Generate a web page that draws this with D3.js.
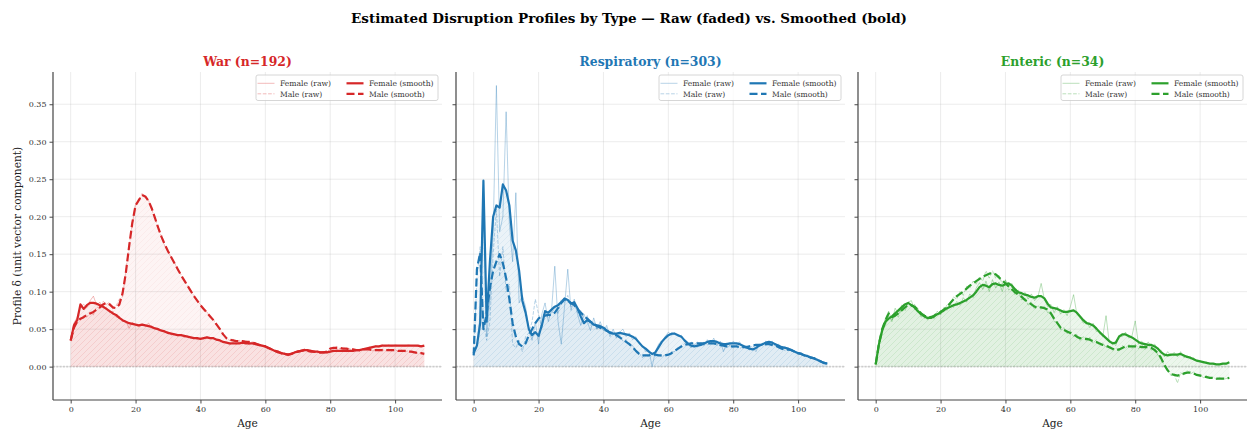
<!DOCTYPE html>
<html>
<head>
<meta charset="utf-8">
<script src="https://cdn.jsdelivr.net/npm/d3@7"></script>
<style>
  body { margin: 0; background: #fff; }
  svg { display: block; }
  text { font-family: "DejaVu Serif", serif; }
</style>
</head>
<body>
<svg id="chart" width="1249" height="431"></svg>
<script>
// Ages 0..109
const ages = d3.range(0, 110);

// ---- War ----
const warFemaleRaw = [0.035,0.058,0.066,0.080,0.083,0.079,0.088,0.094,0.082,0.086,0.078,0.079,0.072,0.074,0.066,0.067,0.060,0.061,0.051,0.059,0.056,0.053,0.057,0.054,0.058,0.051,0.052,0.048,0.049,0.045,0.047,0.042,0.044,0.041,0.043,0.039,0.041,0.038,0.039,0.036,0.038,0.037,0.040,0.037,0.039,0.035,0.036,0.032,0.033,0.029,0.032,0.030,0.033,0.031,0.033,0.029,0.032,0.029,0.030,0.027,0.028,0.024,0.024,0.020,0.021,0.016,0.018,0.014,0.018,0.019,0.021,0.020,0.024,0.021,0.022,0.019,0.021,0.018,0.020,0.018,0.021,0.020,0.023,0.020,0.022,0.020,0.022,0.020,0.023,0.021,0.024,0.023,0.026,0.025,0.028,0.026,0.029,0.027,0.029,0.027,0.029,0.028,0.028,0.027,0.029,0.028,0.028,0.027,0.028,0.027];
const warMaleRaw = [0.035,0.050,0.062,0.063,0.068,0.066,0.073,0.069,0.080,0.077,0.087,0.083,0.086,0.077,0.081,0.090,0.093,0.128,0.162,0.190,0.218,0.220,0.231,0.225,0.222,0.209,0.199,0.183,0.174,0.161,0.155,0.145,0.139,0.129,0.123,0.114,0.109,0.100,0.095,0.087,0.083,0.076,0.073,0.066,0.063,0.055,0.051,0.042,0.039,0.035,0.037,0.033,0.035,0.033,0.035,0.032,0.033,0.030,0.030,0.027,0.028,0.024,0.024,0.020,0.020,0.017,0.018,0.015,0.018,0.018,0.021,0.020,0.023,0.020,0.021,0.019,0.020,0.018,0.020,0.019,0.025,0.024,0.027,0.024,0.026,0.023,0.024,0.021,0.023,0.021,0.024,0.022,0.024,0.021,0.023,0.021,0.023,0.021,0.023,0.021,0.023,0.020,0.022,0.020,0.021,0.019,0.020,0.018,0.018,0.017];
const warFemaleSmooth = [0.035,0.055,0.062,0.083,0.077,0.082,0.085,0.085,0.084,0.082,0.080,0.077,0.074,0.071,0.069,0.065,0.062,0.060,0.058,0.057,0.056,0.055,0.056,0.055,0.054,0.053,0.051,0.050,0.048,0.047,0.045,0.044,0.043,0.042,0.042,0.041,0.040,0.039,0.038,0.038,0.037,0.038,0.039,0.038,0.038,0.036,0.035,0.033,0.032,0.031,0.031,0.031,0.031,0.032,0.031,0.031,0.031,0.030,0.029,0.028,0.027,0.025,0.023,0.021,0.020,0.018,0.017,0.016,0.017,0.019,0.020,0.021,0.022,0.022,0.021,0.020,0.020,0.019,0.019,0.019,0.020,0.021,0.021,0.021,0.021,0.021,0.021,0.021,0.022,0.022,0.023,0.024,0.025,0.026,0.027,0.027,0.028,0.028,0.028,0.028,0.028,0.028,0.028,0.028,0.028,0.028,0.028,0.028,0.027,0.028];
const warMaleSmooth = [0.035,0.052,0.060,0.064,0.066,0.069,0.071,0.073,0.076,0.079,0.083,0.085,0.083,0.079,0.078,0.083,0.098,0.125,0.160,0.192,0.215,0.222,0.229,0.227,0.221,0.211,0.198,0.185,0.173,0.163,0.154,0.146,0.138,0.130,0.122,0.115,0.108,0.101,0.094,0.088,0.082,0.077,0.072,0.067,0.062,0.056,0.050,0.043,0.038,0.036,0.035,0.034,0.034,0.034,0.033,0.033,0.032,0.031,0.029,0.028,0.027,0.025,0.023,0.021,0.019,0.018,0.017,0.016,0.017,0.019,0.020,0.021,0.022,0.021,0.020,0.020,0.019,0.019,0.019,0.020,0.024,0.025,0.025,0.025,0.024,0.024,0.023,0.023,0.022,0.022,0.023,0.023,0.023,0.022,0.022,0.022,0.022,0.022,0.022,0.022,0.022,0.021,0.021,0.021,0.020,0.020,0.019,0.018,0.018,0.017];

// ---- Respiratory ----
const respFemaleRaw = [0.020,0.030,0.070,0.240,0.040,0.090,0.180,0.375,0.180,0.200,0.340,0.190,0.140,0.232,0.085,0.095,0.080,0.050,0.035,0.060,0.030,0.070,0.085,0.060,0.075,0.134,0.060,0.030,0.080,0.130,0.075,0.090,0.070,0.055,0.070,0.060,0.048,0.065,0.050,0.060,0.048,0.055,0.040,0.050,0.038,0.046,0.050,0.040,0.045,0.036,0.040,0.030,0.028,0.020,0.022,0.000,0.020,0.030,0.035,0.040,0.046,0.042,0.045,0.040,0.042,0.033,0.030,0.025,0.030,0.026,0.032,0.028,0.036,0.030,0.038,0.028,0.034,0.020,0.032,0.028,0.034,0.030,0.033,0.025,0.028,0.022,0.025,0.020,0.030,0.028,0.034,0.030,0.034,0.028,0.030,0.024,0.027,0.022,0.023,0.020,0.019,0.016,0.016,0.013,0.013,0.010,0.010,0.007,0.006,0.004];
const respMaleRaw = [0.015,0.120,0.160,0.060,0.035,0.060,0.150,0.210,0.120,0.160,0.100,0.110,0.030,0.025,0.035,0.020,0.040,0.045,0.060,0.090,0.070,0.050,0.075,0.065,0.070,0.080,0.070,0.090,0.085,0.095,0.080,0.085,0.072,0.075,0.062,0.068,0.055,0.060,0.050,0.056,0.048,0.052,0.044,0.046,0.040,0.042,0.034,0.036,0.028,0.028,0.020,0.018,0.012,0.016,0.013,0.017,0.014,0.016,0.013,0.016,0.016,0.020,0.020,0.026,0.025,0.031,0.028,0.033,0.029,0.033,0.029,0.033,0.029,0.033,0.029,0.031,0.027,0.029,0.025,0.028,0.025,0.028,0.024,0.027,0.024,0.028,0.026,0.030,0.027,0.031,0.028,0.031,0.027,0.029,0.025,0.025,0.021,0.024,0.021,0.021,0.017,0.018,0.014,0.015,0.011,0.012,0.008,0.008,0.005,0.004];
const respFemaleSmooth = [0.018,0.028,0.058,0.248,0.060,0.140,0.200,0.215,0.212,0.243,0.235,0.215,0.168,0.155,0.128,0.088,0.072,0.050,0.042,0.046,0.041,0.055,0.074,0.072,0.076,0.080,0.082,0.086,0.091,0.089,0.084,0.086,0.078,0.067,0.058,0.062,0.060,0.056,0.055,0.054,0.052,0.048,0.045,0.044,0.044,0.045,0.044,0.043,0.042,0.040,0.037,0.032,0.027,0.024,0.020,0.017,0.019,0.026,0.033,0.038,0.042,0.044,0.044,0.042,0.040,0.035,0.031,0.028,0.027,0.028,0.029,0.031,0.033,0.034,0.034,0.033,0.031,0.030,0.030,0.031,0.031,0.031,0.030,0.028,0.026,0.024,0.023,0.025,0.028,0.030,0.032,0.033,0.032,0.030,0.028,0.026,0.025,0.024,0.022,0.020,0.018,0.017,0.015,0.014,0.012,0.011,0.009,0.007,0.005,0.004];
const respMaleSmooth = [0.015,0.130,0.152,0.050,0.070,0.105,0.128,0.140,0.150,0.138,0.118,0.090,0.058,0.040,0.030,0.027,0.031,0.042,0.050,0.058,0.064,0.068,0.068,0.069,0.069,0.072,0.078,0.085,0.090,0.088,0.085,0.082,0.077,0.072,0.068,0.064,0.060,0.057,0.054,0.052,0.050,0.048,0.046,0.044,0.042,0.039,0.036,0.033,0.030,0.026,0.021,0.017,0.015,0.015,0.015,0.016,0.016,0.015,0.015,0.015,0.016,0.018,0.021,0.024,0.027,0.029,0.030,0.031,0.031,0.031,0.031,0.031,0.031,0.031,0.031,0.030,0.029,0.028,0.027,0.027,0.027,0.027,0.026,0.026,0.026,0.027,0.028,0.029,0.029,0.029,0.030,0.030,0.029,0.028,0.026,0.024,0.022,0.023,0.022,0.020,0.018,0.017,0.015,0.014,0.012,0.011,0.009,0.007,0.005,0.004];

// ---- Enteric ----
const entFemaleRaw = [0.003,0.035,0.052,0.055,0.068,0.060,0.078,0.070,0.082,0.078,0.086,0.088,0.076,0.078,0.066,0.070,0.062,0.068,0.064,0.074,0.069,0.079,0.075,0.084,0.079,0.087,0.082,0.092,0.086,0.097,0.092,0.105,0.112,0.103,0.114,0.100,0.116,0.105,0.113,0.100,0.115,0.107,0.111,0.098,0.102,0.094,0.099,0.090,0.097,0.088,0.093,0.111,0.090,0.080,0.083,0.072,0.080,0.070,0.076,0.068,0.080,0.096,0.070,0.066,0.058,0.060,0.052,0.058,0.047,0.048,0.040,0.068,0.032,0.033,0.028,0.042,0.040,0.046,0.038,0.041,0.061,0.030,0.034,0.027,0.033,0.026,0.030,0.022,0.022,0.013,0.020,0.014,0.019,0.013,0.020,0.012,0.015,0.010,0.012,0.007,0.008,0.005,0.006,0.004,0.004,0.003,0.003,0.004,0.004,0.006];
const entMaleRaw = [0.003,0.028,0.050,0.064,0.074,0.062,0.070,0.066,0.078,0.074,0.085,0.080,0.083,0.072,0.073,0.064,0.068,0.063,0.070,0.069,0.075,0.073,0.083,0.082,0.093,0.090,0.100,0.095,0.107,0.104,0.114,0.110,0.120,0.114,0.128,0.118,0.128,0.118,0.122,0.110,0.116,0.102,0.106,0.095,0.099,0.089,0.092,0.082,0.086,0.076,0.082,0.076,0.081,0.072,0.074,0.060,0.060,0.049,0.052,0.044,0.048,0.040,0.043,0.035,0.040,0.034,0.039,0.031,0.036,0.028,0.032,0.025,0.029,0.021,0.025,0.020,0.028,0.024,0.030,0.024,0.030,0.024,0.029,0.023,0.029,0.022,0.025,0.015,0.014,0.000,-0.003,-0.012,-0.010,-0.022,-0.008,-0.012,-0.005,-0.010,-0.007,-0.013,-0.010,-0.015,-0.012,-0.016,-0.014,-0.017,-0.015,-0.017,-0.016,-0.015];
const entFemaleSmooth = [0.003,0.030,0.048,0.060,0.064,0.067,0.071,0.075,0.079,0.083,0.085,0.082,0.079,0.074,0.070,0.067,0.065,0.065,0.067,0.070,0.072,0.075,0.078,0.080,0.082,0.083,0.085,0.087,0.089,0.092,0.095,0.100,0.106,0.109,0.108,0.106,0.110,0.111,0.109,0.108,0.110,0.111,0.108,0.103,0.099,0.098,0.096,0.095,0.093,0.092,0.094,0.094,0.091,0.084,0.079,0.078,0.077,0.075,0.073,0.073,0.074,0.075,0.072,0.067,0.062,0.058,0.057,0.055,0.051,0.046,0.042,0.038,0.034,0.031,0.032,0.040,0.043,0.043,0.041,0.039,0.036,0.033,0.031,0.030,0.029,0.029,0.027,0.024,0.019,0.016,0.015,0.016,0.016,0.016,0.017,0.015,0.013,0.012,0.010,0.008,0.007,0.006,0.005,0.004,0.004,0.003,0.003,0.004,0.004,0.006];
const entMaleSmooth = [0.003,0.030,0.050,0.062,0.071,0.066,0.068,0.071,0.075,0.079,0.082,0.082,0.080,0.076,0.071,0.068,0.066,0.066,0.068,0.071,0.073,0.076,0.080,0.085,0.090,0.094,0.097,0.100,0.104,0.108,0.111,0.114,0.117,0.120,0.122,0.124,0.125,0.123,0.119,0.115,0.111,0.107,0.103,0.099,0.096,0.093,0.089,0.086,0.083,0.080,0.079,0.079,0.078,0.076,0.071,0.064,0.058,0.052,0.049,0.047,0.045,0.043,0.040,0.038,0.037,0.037,0.036,0.034,0.033,0.031,0.029,0.028,0.026,0.024,0.022,0.023,0.025,0.027,0.027,0.027,0.027,0.027,0.026,0.026,0.026,0.025,0.022,0.018,0.011,0.002,-0.005,-0.010,-0.011,-0.012,-0.011,-0.009,-0.008,-0.008,-0.009,-0.011,-0.012,-0.013,-0.014,-0.015,-0.015,-0.016,-0.016,-0.016,-0.016,-0.015];

// Panel titles, sample sizes and colours
const panelNames = ["War", "Respiratory", "Enteric"];
const panelCounts = [192, 303, 34];
const panelColors = ["#d62728", "#1f77b4", "#2ca02c"];
const panelSeries = [
  {fRaw: warFemaleRaw, mRaw: warMaleRaw, fSm: warFemaleSmooth, mSm: warMaleSmooth},
  {fRaw: respFemaleRaw, mRaw: respMaleRaw, fSm: respFemaleSmooth, mSm: respMaleSmooth},
  {fRaw: entFemaleRaw, mRaw: entMaleRaw, fSm: entFemaleSmooth, mSm: entMaleSmooth}
];

// Axis ticks
const xTicks = [0, 20, 40, 60, 80, 100];
const yTicks = [0.00, 0.05, 0.10, 0.15, 0.20, 0.25, 0.30, 0.35];

// Layout
const panelLeft = [53, 456, 858];
const panelW = 389;
const plotTop = 72, plotBottom = 400;

const svg = d3.select("#chart");
svg.append("rect").attr("width", 1249).attr("height", 431).attr("fill", "#fff");

const defs = svg.append("defs");

const x = d3.scaleLinear().domain([-5.45, 114.45]).range([0, panelW]);
const y = d3.scaleLinear().domain([-0.0445, 0.393]).range([plotBottom, plotTop]);

// Suptitle
svg.append("text")
  .attr("x", 629).attr("y", 23)
  .attr("text-anchor", "middle")
  .attr("font-size", 13.5).attr("font-weight", "bold").attr("fill", "#000")
  .text("Estimated Disruption Profiles by Type \u2014 Raw (faded) vs. Smoothed (bold)");

// Y label
svg.append("text")
  .attr("transform", `translate(21,${(plotTop + plotBottom) / 2}) rotate(-90)`)
  .attr("text-anchor", "middle")
  .attr("font-size", 10.6).attr("fill", "#222")
  .text("Profile \u03b4 (unit vector component)");

panelNames.forEach((name, i) => {
  const color = panelColors[i];
  const s = panelSeries[i];
  const g = svg.append("g").attr("transform", `translate(${panelLeft[i]},0)`);

  // clip + hatch
  defs.append("clipPath").attr("id", `clip${i}`)
    .append("rect").attr("x", 0).attr("y", plotTop).attr("width", panelW).attr("height", plotBottom - plotTop);
  const pat = defs.append("pattern").attr("id", `hatch${i}`)
    .attr("patternUnits", "userSpaceOnUse").attr("width", 6).attr("height", 6);
  pat.append("path").attr("d", "M0,6 L6,0 M-1.5,1.5 L1.5,-1.5 M4.5,7.5 L7.5,4.5")
    .attr("stroke", color).attr("stroke-width", 0.6).attr("stroke-opacity", 0.12);

  // grid
  g.append("g").selectAll("line.gy").data(yTicks).join("line")
    .attr("x1", 0).attr("x2", panelW)
    .attr("y1", d => y(d)).attr("y2", d => y(d))
    .attr("stroke", "#b0b0b0").attr("stroke-opacity", 0.3).attr("stroke-width", 0.8);
  g.append("g").selectAll("line.gx").data(xTicks).join("line")
    .attr("x1", d => x(d)).attr("x2", d => x(d))
    .attr("y1", plotTop).attr("y2", plotBottom)
    .attr("stroke", "#b0b0b0").attr("stroke-opacity", 0.3).attr("stroke-width", 0.8);

  // zero reference
  g.append("line")
    .attr("x1", 0).attr("x2", panelW).attr("y1", y(0)).attr("y2", y(0))
    .attr("stroke", "#aaa").attr("stroke-opacity", 0.5).attr("stroke-width", 1.6)
    .attr("stroke-dasharray", "2,1.3");

  const plot = g.append("g").attr("clip-path", `url(#clip${i})`);

  const area = vals => d3.area().x((d, k) => x(ages[k])).y0(y(0)).y1(d => y(d))(vals);
  const line = vals => d3.line().x((d, k) => x(ages[k])).y(d => y(d))(vals);

  // shaded areas
  plot.append("path").attr("d", area(s.fSm)).attr("fill", color).attr("fill-opacity", 0.09);
  plot.append("path").attr("d", area(s.fSm)).attr("fill", `url(#hatch${i})`);
  plot.append("path").attr("d", area(s.mSm)).attr("fill", color).attr("fill-opacity", 0.05);
  plot.append("path").attr("d", area(s.mSm)).attr("fill", `url(#hatch${i})`).attr("opacity", 0.6);

  // raw (faded)
  plot.append("path").attr("d", line(s.fRaw)).attr("fill", "none")
    .attr("stroke", color).attr("stroke-opacity", 0.32).attr("stroke-width", 1);
  plot.append("path").attr("d", line(s.mRaw)).attr("fill", "none")
    .attr("stroke", color).attr("stroke-opacity", 0.32).attr("stroke-width", 1)
    .attr("stroke-dasharray", "3.7,1.6");

  // smoothed (bold)
  plot.append("path").attr("d", line(s.fSm)).attr("fill", "none")
    .attr("stroke", color).attr("stroke-width", 2.2).attr("stroke-linejoin", "round");
  plot.append("path").attr("d", line(s.mSm)).attr("fill", "none")
    .attr("stroke", color).attr("stroke-width", 2.2).attr("stroke-linejoin", "round")
    .attr("stroke-dasharray", "8,3.5");

  // axes
  const xAxis = d3.axisBottom(x).tickValues(xTicks).tickSize(3.5).tickPadding(3);
  const gx = g.append("g").attr("transform", `translate(0,${plotBottom})`).call(xAxis);
  const yAxis = d3.axisLeft(y).tickValues(yTicks).tickSize(3.5).tickPadding(3)
    .tickFormat(i === 0 ? d3.format(".2f") : () => "");
  const gy = g.append("g").call(yAxis);
  [gx, gy].forEach(a => {
    a.select(".domain").remove();
    a.selectAll(".tick line").attr("stroke", "#333").attr("stroke-width", 0.9);
    a.selectAll(".tick text").attr("font-size", 8).attr("fill", "#333")
      .attr("font-family", "DejaVu Serif");
  });
  // spines
  g.append("line").attr("x1", 0).attr("x2", 0).attr("y1", plotTop).attr("y2", plotBottom)
    .attr("stroke", "#444").attr("stroke-width", 1.2);
  g.append("line").attr("x1", 0).attr("x2", panelW).attr("y1", plotBottom).attr("y2", plotBottom)
    .attr("stroke", "#444").attr("stroke-width", 1.2);

  // x label
  g.append("text").attr("x", panelW / 2).attr("y", 427)
    .attr("text-anchor", "middle").attr("font-size", 10.6).attr("fill", "#222").text("Age");

  // panel title
  g.append("text").attr("x", panelW / 2).attr("y", 65.5)
    .attr("text-anchor", "middle").attr("font-size", 12.4).attr("font-weight", "bold")
    .attr("fill", color).text(`${name} (n=${panelCounts[i]})`);

  // legend
  const lgW = 182, lgH = 25.5;
  const lg = g.append("g").attr("transform", `translate(${panelW - 4 - lgW},${plotTop + 3})`);
  lg.append("rect").attr("width", lgW).attr("height", lgH).attr("rx", 2)
    .attr("fill", "#fff").attr("fill-opacity", 0.8).attr("stroke", "#ccc").attr("stroke-width", 0.8);
  const entries = [
    {label: "Female (raw)", col: 0, row: 0, w: 1, op: 0.32, dash: null},
    {label: "Male (raw)", col: 0, row: 1, w: 1, op: 0.32, dash: "3.7,1.6"},
    {label: "Female (smooth)", col: 1, row: 0, w: 2.2, op: 1, dash: null},
    {label: "Male (smooth)", col: 1, row: 1, w: 2.2, op: 1, dash: "8,3.5"}
  ];
  entries.forEach(e => {
    const cx = e.col === 0 ? 1.5 : 90.5;
    const cy = e.row === 0 ? 8.3 : 18.8;
    lg.append("line").attr("x1", cx).attr("x2", cx + 17).attr("y1", cy).attr("y2", cy)
      .attr("stroke", color).attr("stroke-opacity", e.op).attr("stroke-width", e.w)
      .attr("stroke-dasharray", e.dash);
    lg.append("text").attr("x", cx + 22.5).attr("y", cy + 2.7)
      .attr("font-size", 7.6).attr("fill", "#333").text(e.label);
  });
});
</script>
</body>
</html>
